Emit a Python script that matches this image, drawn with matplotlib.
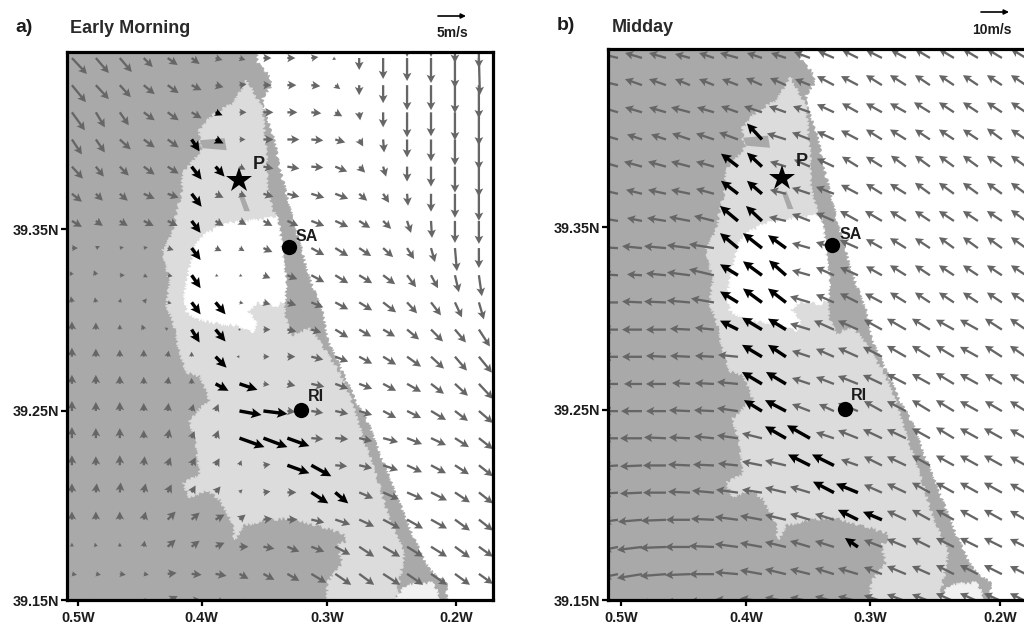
import matplotlib
matplotlib.use('Agg')
import matplotlib.pyplot as plt
import numpy as np
from matplotlib.patches import Polygon

plt.rcParams['font.family'] = ['Liberation Sans', 'DejaVu Sans']
plt.rcParams['font.weight'] = 'bold'

GRAY = '#666666'
DARK_LAND = '#a9a9a9'
LIGHT_LAND = '#dcdcdc'
TEXT = '#1c1c1c'

# wind components, read in 1/28 of the reference arrow (5 m/s in a, 10 m/s in b)
# panel a: one row per latitude from north to south, 18 columns west to east
a_east = [
    [0, 0, 0, 0, 0, 0, 0, 0, 0, 0, 0, 0, 0, 0, 0, 0, 0, 0],
    [15, 13, 12, 9, 10, 8, 7, 6, 8, 8, 7, -3, 0, 0, 0, 0, 0, 1],
    [14, 13, 11, 11, 11, 10, 8, 7, 8, 9, 9, 5, 0, 0, 0, 0, 0, 0],
    [13, 9, 9, 11, 11, 10, 7, 7, 10, 10, 10, 7, 1, 0, 0, 0, 0, 0],
    [10, 9, 11, 11, 11, 8, 8, 6, 10, 12, 12, 10, 4, 1, 0, 0, 0, 0],
    [11, 8, 9, 11, 11, 10, 9, 6, 10, 12, 12, 12, 6, 3, 0, 0, 0, 0],
    [10, 7, 8, 11, 11, 10, 8, 7, 10, 12, 13, 13, 8, 6, 1, 0, 0, 0],
    [10, 7, 8, 10, 10, 9, 8, 7, 9, 11, 13, 13, 11, 8, 4, 1, 0, 0],
    [6, 4, 4, 4, 6, 9, 6, 5, 9, 8, 13, 13, 12, 10, 7, 4, 2, 0],
    [-2, -2, 5, 4, 5, 9, 3, 3, 7, 10, 13, 13, 13, 12, 9, 7, 4, 3],
    [-1, -1, 1, 3, 4, 9, 10, 4, 7, 9, 12, 13, 13, 13, 10, 10, 7, 5],
    [0, 0, 0, -2, -3, 8, 10, 2, 7, 9, 10, 13, 12, 12, 12, 12, 11, 11],
    [0, 0, 0, 0, 1, 0, 11, -3, 6, 8, 12, 13, 13, 13, 14, 13, 12, 13],
    [0, 0, 0, 0, 1, 0, 13, 18, 6, 8, 13, 13, 13, 13, 14, 13, 13, 14],
    [0, 0, 0, 0, 1, 2, 3, 22, 24, 8, 12, 13, 13, 13, 14, 15, 13, 14],
    [0, 0, 0, 0, 2, 3, 3, 25, 24, 22, 12, 13, 13, 15, 15, 15, 14, 14],
    [0, 0, 0, 1, 3, 4, 4, 2, 7, 22, 20, 12, 13, 15, 15, 15, 14, 14],
    [0, 1, 1, 2, 4, 4, 5, 3, 7, 9, 17, 13, 14, 16, 16, 16, 15, 14],
    [0, 0, 0, 2, 8, 8, 9, 6, 9, 10, 13, 15, 15, 17, 16, 16, 15, 14],
    [0, -1, 0, 1, 8, 8, 9, 9, 11, 12, 13, 15, 15, 17, 16, 16, 15, 14],
    [5, 5, 6, 5, 9, 10, 11, 9, 11, 12, 15, 16, 15, 17, 16, 16, 15, 14],
    [4, 4, 3, 2, 10, 10, 11, 9, 11, 12, 15, 16, 15, 17, 16, 16, 15, 14],
]
a_south = [
    [0, 0, 0, 0, 0, 0, 0, 0, 0, 0, 0, 0, 0, 0, 26, 26, 32, 37],
    [16, 15, 14, 9, 7, 6, 2, 2, 0, 0, -1, 2, 12, 21, 23, 25, 30, 37],
    [17, 14, 12, 9, 8, 5, 2, -1, 0, 0, 1, 4, 10, 18, 25, 25, 28, 33],
    [18, 15, 13, 8, 8, 6, 3, 0, 0, 0, 1, 4, 8, 15, 25, 24, 28, 33],
    [15, 13, 10, 8, 8, 12, 4, 0, 0, 0, 1, 3, 7, 13, 18, 22, 26, 30],
    [12, 10, 9, 8, 7, 13, 10, 3, 2, 2, 1, 5, 6, 10, 15, 20, 26, 30],
    [8, 7, 7, 5, 4, 13, 4, 3, 3, 3, 4, 5, 7, 9, 12, 18, 24, 27],
    [6, 5, 5, 5, 5, 12, 5, 4, 5, 5, 5, 6, 7, 8, 12, 17, 22, 23],
    [0, -2, -1, -1, 2, 12, 3, 3, 4, 5, 7, 8, 8, 9, 11, 14, 23, 20],
    [-4, -5, 0, 2, 1, 13, 1, 1, 3, 4, 7, 8, 8, 9, 12, 13, 17, 21],
    [-6, -5, -4, -4, 1, 12, 12, 1, 2, 3, 5, 7, 8, 10, 11, 13, 15, 17],
    [-8, -7, -5, -5, -2, 13, 12, -1, 0, 2, 3, 8, 7, 7, 10, 12, 13, 17],
    [-9, -8, -7, -7, -6, -5, 11, 0, 0, 0, 3, 5, 7, 8, 10, 12, 14, 16],
    [-9, -9, -8, -7, -7, -6, 7, 6, 1, 2, 3, 5, 5, 7, 8, 10, 12, 15],
    [-10, -9, -9, -8, -8, -7, -7, 4, 3, 1, 2, 3, 4, 7, 7, 9, 10, 12],
    [-11, -10, -10, -8, -9, -7, -8, 9, 9, 8, 1, 1, 3, 4, 6, 7, 9, 11],
    [-10, -9, -10, -9, -8, -8, -7, -5, -1, 8, 11, 1, 3, 5, 7, 8, 9, 11],
    [-9, -9, -10, -9, -8, -7, -6, -3, -1, 0, 11, 11, 6, 7, 7, 8, 10, 11],
    [-8, -8, -8, -8, -8, -7, -5, -5, -1, 0, 3, 5, 7, 9, 9, 9, 11, 11],
    [-4, -4, -4, -6, -7, -6, -4, 0, 2, 5, 5, 8, 10, 10, 10, 10, 11, 10],
    [1, 1, 1, 1, -1, 1, 2, 5, 6, 7, 9, 11, 11, 11, 11, 11, 11, 10],
    [-1, -1, -1, -3, -5, -1, 2, 5, 6, 7, 9, 11, 11, 11, 11, 11, 11, 10],
]
# arrows drawn in black, (row, column)
a_black = [(3, 6), (4, 5), (4, 6), (5, 5), (5, 6), (6, 5), (7, 5), (8, 5), (9, 5),
           (10, 5), (10, 6), (11, 5), (11, 6), (12, 6), (13, 6), (13, 7), (14, 7),
           (14, 8), (15, 7), (15, 8), (15, 9), (16, 9), (16, 10), (17, 10), (17, 11)]

# panel b: 21 rows north to south, 18 columns
b_west = [
    [17, 17, 17, 15, 15, 18, 15, 15, 16, 16, 16, 16, 15, 15, 15, 15, 15, 15],
    [17, 17, 17, 15, 15, 16, 16, 16, 15, 17, 17, 16, 16, 15, 15, 15, 15, 15],
    [17, 17, 17, 19, 17, 17, 18, 17, 17, 17, 16, 16, 16, 16, 15, 15, 15, 15],
    [17, 15, 15, 18, 18, 19, 15, 19, 18, 17, 17, 16, 16, 15, 15, 15, 15, 15],
    [17, 18, 18, 19, 18, 17, 15, 16, 16, 17, 16, 16, 15, 15, 15, 15, 15, 15],
    [17, 16, 18, 19, 18, 17, 15, 16, 18, 18, 17, 16, 16, 15, 15, 15, 15, 15],
    [18, 15, 19, 21, 20, 18, 16, 17, 18, 18, 18, 17, 16, 15, 15, 15, 15, 15],
    [20, 20, 22, 23, 25, 18, 19, 18, 18, 18, 18, 16, 16, 15, 15, 15, 15, 15],
    [15, 15, 20, 23, 25, 18, 19, 17, 18, 18, 18, 16, 16, 15, 15, 15, 15, 15],
    [20, 20, 22, 23, 23, 18, 19, 18, 20, 18, 18, 17, 16, 15, 15, 15, 15, 15],
    [15, 20, 20, 20, 19, 18, 20, 18, 20, 20, 20, 18, 19, 18, 18, 18, 17, 16],
    [15, 20, 20, 20, 19, 20, 20, 18, 18, 18, 20, 19, 19, 18, 18, 18, 17, 16],
    [15, 18, 20, 18, 19, 21, 20, 20, 18, 18, 20, 19, 19, 18, 18, 18, 17, 16],
    [15, 21, 20, 21, 20, 21, 18, 21, 18, 15, 20, 18, 19, 18, 18, 18, 17, 16],
    [15, 22, 22, 21, 20, 21, 20, 21, 23, 18, 20, 19, 19, 18, 18, 18, 18, 16],
    [15, 22, 23, 22, 21, 20, 20, 21, 22, 22, 17, 18, 19, 18, 18, 18, 18, 16],
    [15, 22, 23, 22, 22, 22, 20, 21, 20, 21, 22, 18, 19, 18, 18, 18, 18, 16],
    [15, 24, 25, 24, 23, 23, 22, 21, 20, 19, 20, 19, 19, 18, 18, 18, 18, 16],
    [15, 25, 26, 25, 25, 23, 22, 21, 20, 19, 13, 18, 19, 18, 18, 18, 18, 16],
    [15, 25, 26, 25, 25, 23, 22, 21, 20, 19, 20, 18, 19, 18, 18, 18, 18, 16],
    [15, 25, 26, 25, 25, 23, 22, 21, 20, 19, 20, 18, 19, 18, 18, 18, 18, 16],
]
b_north = [
    [4, 5, 5, 4, 5, 5, 5, 5, 6, 7, 8, 8, 8, 9, 9, 9, 9, 9],
    [4, 6, 6, 6, 6, 6, 7, 7, 6, 9, 9, 10, 10, 10, 10, 10, 10, 10],
    [5, 5, 5, 5, 5, 6, 6, 6, 6, 8, 9, 9, 9, 10, 10, 10, 10, 10],
    [5, 5, 5, 6, 6, 7, 16, 6, 7, 8, 9, 10, 10, 10, 10, 10, 11, 10],
    [5, 5, 5, 5, 5, 13, 14, 5, 7, 8, 10, 10, 11, 11, 11, 11, 11, 11],
    [4, 4, 4, 4, 5, 13, 13, 4, 6, 7, 9, 10, 10, 11, 11, 11, 11, 11],
    [3, 3, 3, 4, 5, 15, 15, 4, 7, 8, 10, 10, 10, 10, 10, 10, 10, 11],
    [1, 2, 2, 3, 4, 15, 15, 13, 5, 6, 8, 9, 10, 10, 11, 11, 11, 11],
    [1, 1, 2, 3, 6, 11, 14, 15, 5, 8, 8, 9, 10, 10, 10, 10, 10, 10],
    [0, 1, 1, 2, 4, 11, 14, 14, 6, 8, 9, 9, 10, 10, 10, 10, 10, 10],
    [0, 0, 0, 1, 2, 9, 12, 11, 6, 9, 9, 10, 11, 11, 10, 10, 11, 11],
    [0, 0, 1, 1, 1, 2, 12, 12, 6, 8, 9, 10, 11, 11, 11, 10, 11, 11],
    [0, 0, 0, 1, 1, 2, 12, 12, 6, 7, 8, 9, 10, 10, 11, 10, 10, 10],
    [0, 0, 0, 1, 1, 3, 11, 11, 7, 7, 8, 10, 10, 11, 11, 10, 10, 10],
    [0, 0, 1, 1, 2, 3, 5, 12, 13, 6, 8, 9, 9, 10, 11, 10, 10, 9],
    [-1, -1, 0, 1, 1, 2, 4, 5, 11, 11, 6, 9, 9, 10, 10, 10, 10, 9],
    [-1, -1, 0, 1, 2, 3, 3, 5, 6, 11, 9, 8, 9, 10, 10, 10, 10, 9],
    [-2, -2, -1, 0, 1, 3, 4, 5, 6, 6, 10, 8, 9, 10, 10, 10, 10, 9],
    [-3, -3, -1, 0, 1, 3, 4, 5, 6, 6, 9, 7, 8, 9, 9, 9, 9, 8],
    [-3, -4, -2, -1, 0, 2, 4, 5, 5, 6, 6, 7, 8, 8, 9, 9, 9, 8],
    [-3, -4, -2, -1, 0, 2, 3, 4, 4, 5, 5, 6, 7, 7, 8, 8, 8, 8],
]
b_black = [(3, 6), (4, 5), (4, 6), (5, 5), (5, 6), (6, 5), (6, 6), (7, 5), (7, 6), (7, 7),
           (8, 5), (8, 6), (8, 7), (9, 5), (9, 6), (9, 7), (10, 5), (10, 6), (10, 7),
           (11, 6), (11, 7), (12, 6), (12, 7), (13, 6), (13, 7), (14, 7), (14, 8),
           (15, 8), (15, 9), (16, 9), (16, 10), (17, 10), (17, 11), (18, 10)]

# land outline, lon / lat
land_lon = [-0.3598, -0.3574, -0.3479, -0.3464, -0.3535, -0.3535, -0.3479, -0.344, -0.3416,
            -0.3376, -0.3321, -0.3281, -0.3218, -0.3178, -0.3107, -0.306, -0.302, -0.2901,
            -0.279, -0.2687, -0.2632, -0.2505, -0.245, -0.2347, -0.2212, -0.2078, -0.207,
            -0.53, -0.53]
land_lat = [39.46, 39.4397, 39.4321, 39.4278, 39.4213, 39.4159, 39.4051, 39.3981, 39.3873,
            39.3765, 39.3619, 39.3511, 39.337, 39.3262, 39.3132, 39.3051, 39.2905, 39.2727,
            39.2565, 39.244, 39.2332, 39.2116, 39.2024, 39.1846, 39.1662, 39.1592, 39.14,
            39.14, 39.46]

# marsh area inside the land outline
marsh_lon = [-0.3662, -0.3733, -0.3772, -0.3931, -0.4034, -0.4034, -0.4018, -0.4168, -0.4176,
             -0.4216, -0.4248, -0.4327, -0.4271, -0.4295, -0.4248, -0.4192, -0.4137, -0.4034,
             -0.3955, -0.4113, -0.4058, -0.4034, -0.4168, -0.4113, -0.3978, -0.3875, -0.3772,
             -0.3757, -0.3693, -0.3503, -0.3321, -0.3083, -0.2901, -0.2846, -0.2941, -0.2901,
             -0.302, -0.302, -0.2505, -0.245, -0.241, -0.2529, -0.2632, -0.2743, -0.2846,
             -0.2925, -0.3083, -0.3163, -0.3297, -0.3345, -0.3361, -0.3376, -0.34, -0.3424,
             -0.3464, -0.3503, -0.3503, -0.3519, -0.3543]
marsh_lat = [39.4305, 39.4213, 39.4181, 39.4116, 39.4035, 39.3981, 39.3927, 39.3803, 39.3694,
             39.3586, 39.3478, 39.3386, 39.3224, 39.3078, 39.3013, 39.2835, 39.2727, 39.2711,
             39.2581, 39.2473, 39.2332, 39.217, 39.2132, 39.2051, 39.2095, 39.2041, 39.1916,
             39.1824, 39.19, 39.1932, 39.1943, 39.19, 39.1862, 39.1808, 39.1808, 39.17,
             39.1592, 39.14, 39.14, 39.1608, 39.1754, 39.1932, 39.217, 39.2386, 39.2603,
             39.2727, 39.2889, 39.2965, 39.2927, 39.2997, 39.3089, 39.3332, 39.3511, 39.3565,
             39.3619, 39.3727, 39.3873, 39.4019, 39.4159]

# lake in the marsh
lake_lon = [-0.382, -0.3582, -0.3424, -0.34, -0.3376, -0.3345, -0.3361, -0.3424, -0.3582,
            -0.3654, -0.3582, -0.3614, -0.3733, -0.3931, -0.4034, -0.4137, -0.4153, -0.4113,
            -0.4058, -0.3978]
lake_lat = [39.3532, 39.3549, 39.3565, 39.3511, 39.3332, 39.3208, 39.3116, 39.3089, 39.3105,
            39.3062, 39.2997, 39.2943, 39.2981, 39.2997, 39.3013, 39.3051, 39.3154, 39.3294,
            39.3424, 39.3478]

# paler patch at the southern tip
tip_lon = [-0.2474, -0.2394, -0.2188, -0.2133, -0.2133, -0.2474]
tip_lat = [39.151, 39.1581, 39.1592, 39.1522, 39.14, 39.14]

# small darker patches in the marsh, lon / lat rings
patch_lon = [[-0.4034, -0.3836, -0.382, -0.401], [-0.3725, -0.369, -0.3635, -0.368]]
patch_lat = [[39.3981, 39.3992, 39.3927, 39.3938], [39.3684, 39.3694, 39.3598, 39.3598]]

# sites
site_names = ['SA', 'RI']
site_lon = [-0.3329, -0.3226]
site_lat = [39.3403, 39.2527]
label_lon = [-0.3273, -0.3178]
label_lat = [39.3462, 39.2597]
star_lon, star_lat = -0.3725, 39.3765

lat_ticks = [39.35, 39.2522, 39.15]
lat_labels = ['39.35N', '39.25N', '39.15N']
a_lon_ticks = [-0.5, -0.4018, -0.3021, -0.2]
b_lon_ticks = [-0.5, -0.401, -0.303, -0.2]
lon_labels = ['0.5W', '0.4W', '0.3W', '0.2W']


def draw_panel(ax, lon, lat, u, v, black, scale, lon_ticks):
    for xs, ys, col in [(land_lon, land_lat, DARK_LAND), (marsh_lon, marsh_lat, LIGHT_LAND),
                        (lake_lon, lake_lat, 'white'), (tip_lon, tip_lat, '#f1f1f1')]:
        poly = Polygon(np.column_stack((xs, ys)), closed=True, fc=col, ec=col, lw=0.5, zorder=1)
        poly.set_sketch_params(scale=1.6, length=5, randomness=4)
        ax.add_patch(poly)
    for xs, ys in zip(patch_lon, patch_lat):
        ax.add_patch(Polygon(np.column_stack((xs, ys)), closed=True, fc=DARK_LAND, ec='none', zorder=1))

    X, Y = np.meshgrid(lon, lat)
    is_black = np.zeros(X.shape, dtype=bool)
    for r, c in black:
        is_black[r, c] = True

    common = dict(angles='uv', scale_units='inches', scale=scale, units='dots', pivot='tail')
    ax.quiver(X[~is_black], Y[~is_black], u[~is_black], v[~is_black], color=GRAY, width=2.3,
              headwidth=3.8, headlength=3.6, headaxislength=3.0, zorder=2, **common)
    ax.quiver(X[is_black], Y[is_black], u[is_black], v[is_black], color='black', width=3.4,
              headwidth=3.0, headlength=3.0, headaxislength=2.6, zorder=3, **common)

    ax.plot(star_lon, star_lat, '*', color='black', markersize=19, mew=0, zorder=5)
    ax.plot(site_lon, site_lat, 'o', color='black', markersize=11, mew=0, zorder=5)
    ax.text(-0.3614, 39.3851, 'P', fontsize=13, color=TEXT, va='center', zorder=6)
    for name, x, y in zip(site_names, label_lon, label_lat):
        ax.text(x, y, name, fontsize=11.5, color=TEXT, va='center', zorder=6)

    ax.set_yticks(lat_ticks)
    ax.set_yticklabels(lat_labels, fontsize=10.4, color=TEXT)
    ax.set_xticks(lon_ticks)
    ax.set_xticklabels(lon_labels, fontsize=10.4, color=TEXT)
    ax.tick_params(axis='y', length=4, width=1.6, pad=1.5)
    ax.tick_params(axis='x', length=4, width=1.6, pad=4)
    for s in ax.spines.values():
        s.set_linewidth(2.3)
    ax.set_ylim(39.15, 39.4457)


def ref_arrow(x0, x1, y):
    fig.add_artist(matplotlib.patches.FancyArrowPatch(
        (x0 / 1024, 1 - y / 624), (x1 / 1024, 1 - y / 624), transform=fig.transFigure,
        arrowstyle='-|>', mutation_scale=7, lw=1.2, color='black', shrinkA=0, shrinkB=0))


fig = plt.figure(figsize=(10.24, 6.24), dpi=100)

# axes boxes in pixels: left, right, top, bottom
ax1 = fig.add_axes([67 / 1024, 1 - 600 / 624, 426 / 1024, 548 / 624])
ax2 = fig.add_axes([608 / 1024, 1 - 600 / 624, 428 / 1024, 551 / 624])

a_lon = -0.5048 + 0.019 * np.arange(18)
a_lat = 39.4571 - 0.01465 * np.arange(22)
b_lon = -0.5024 + 0.019 * np.arange(18)
b_lat = 39.4409 - 0.01458 * np.arange(21)

draw_panel(ax1, a_lon, a_lat, np.array(a_east) * 5 / 28, -np.array(a_south) * 5 / 28,
           a_black, 5 / 0.28, a_lon_ticks)
draw_panel(ax2, b_lon, b_lat, -np.array(b_west) * 10 / 28, np.array(b_north) * 10 / 28,
           b_black, 10 / 0.28, b_lon_ticks)
ax1.set_xlim(-0.5087, -0.1706)
ax2.set_xlim(-0.5103, -0.1714)

fig.text(15 / 1024, 1 - 32 / 624, 'a)', fontsize=14, color=TEXT)
fig.text(70 / 1024, 1 - 33 / 624, 'Early Morning', fontsize=13, color='#2a2a2a')
fig.text(557 / 1024, 1 - 30 / 624, 'b)', fontsize=14, color=TEXT)
fig.text(612 / 1024, 1 - 32 / 624, 'Midday', fontsize=13, color='#2a2a2a')
fig.text(437 / 1024, 1 - 37 / 624, '5m/s', fontsize=10, color=TEXT)
fig.text(972 / 1024, 1 - 34 / 624, '10m/s', fontsize=10, color=TEXT)
ref_arrow(438, 466, 16)
ref_arrow(981, 1009, 12)

fig.savefig('out.png', dpi=100)
